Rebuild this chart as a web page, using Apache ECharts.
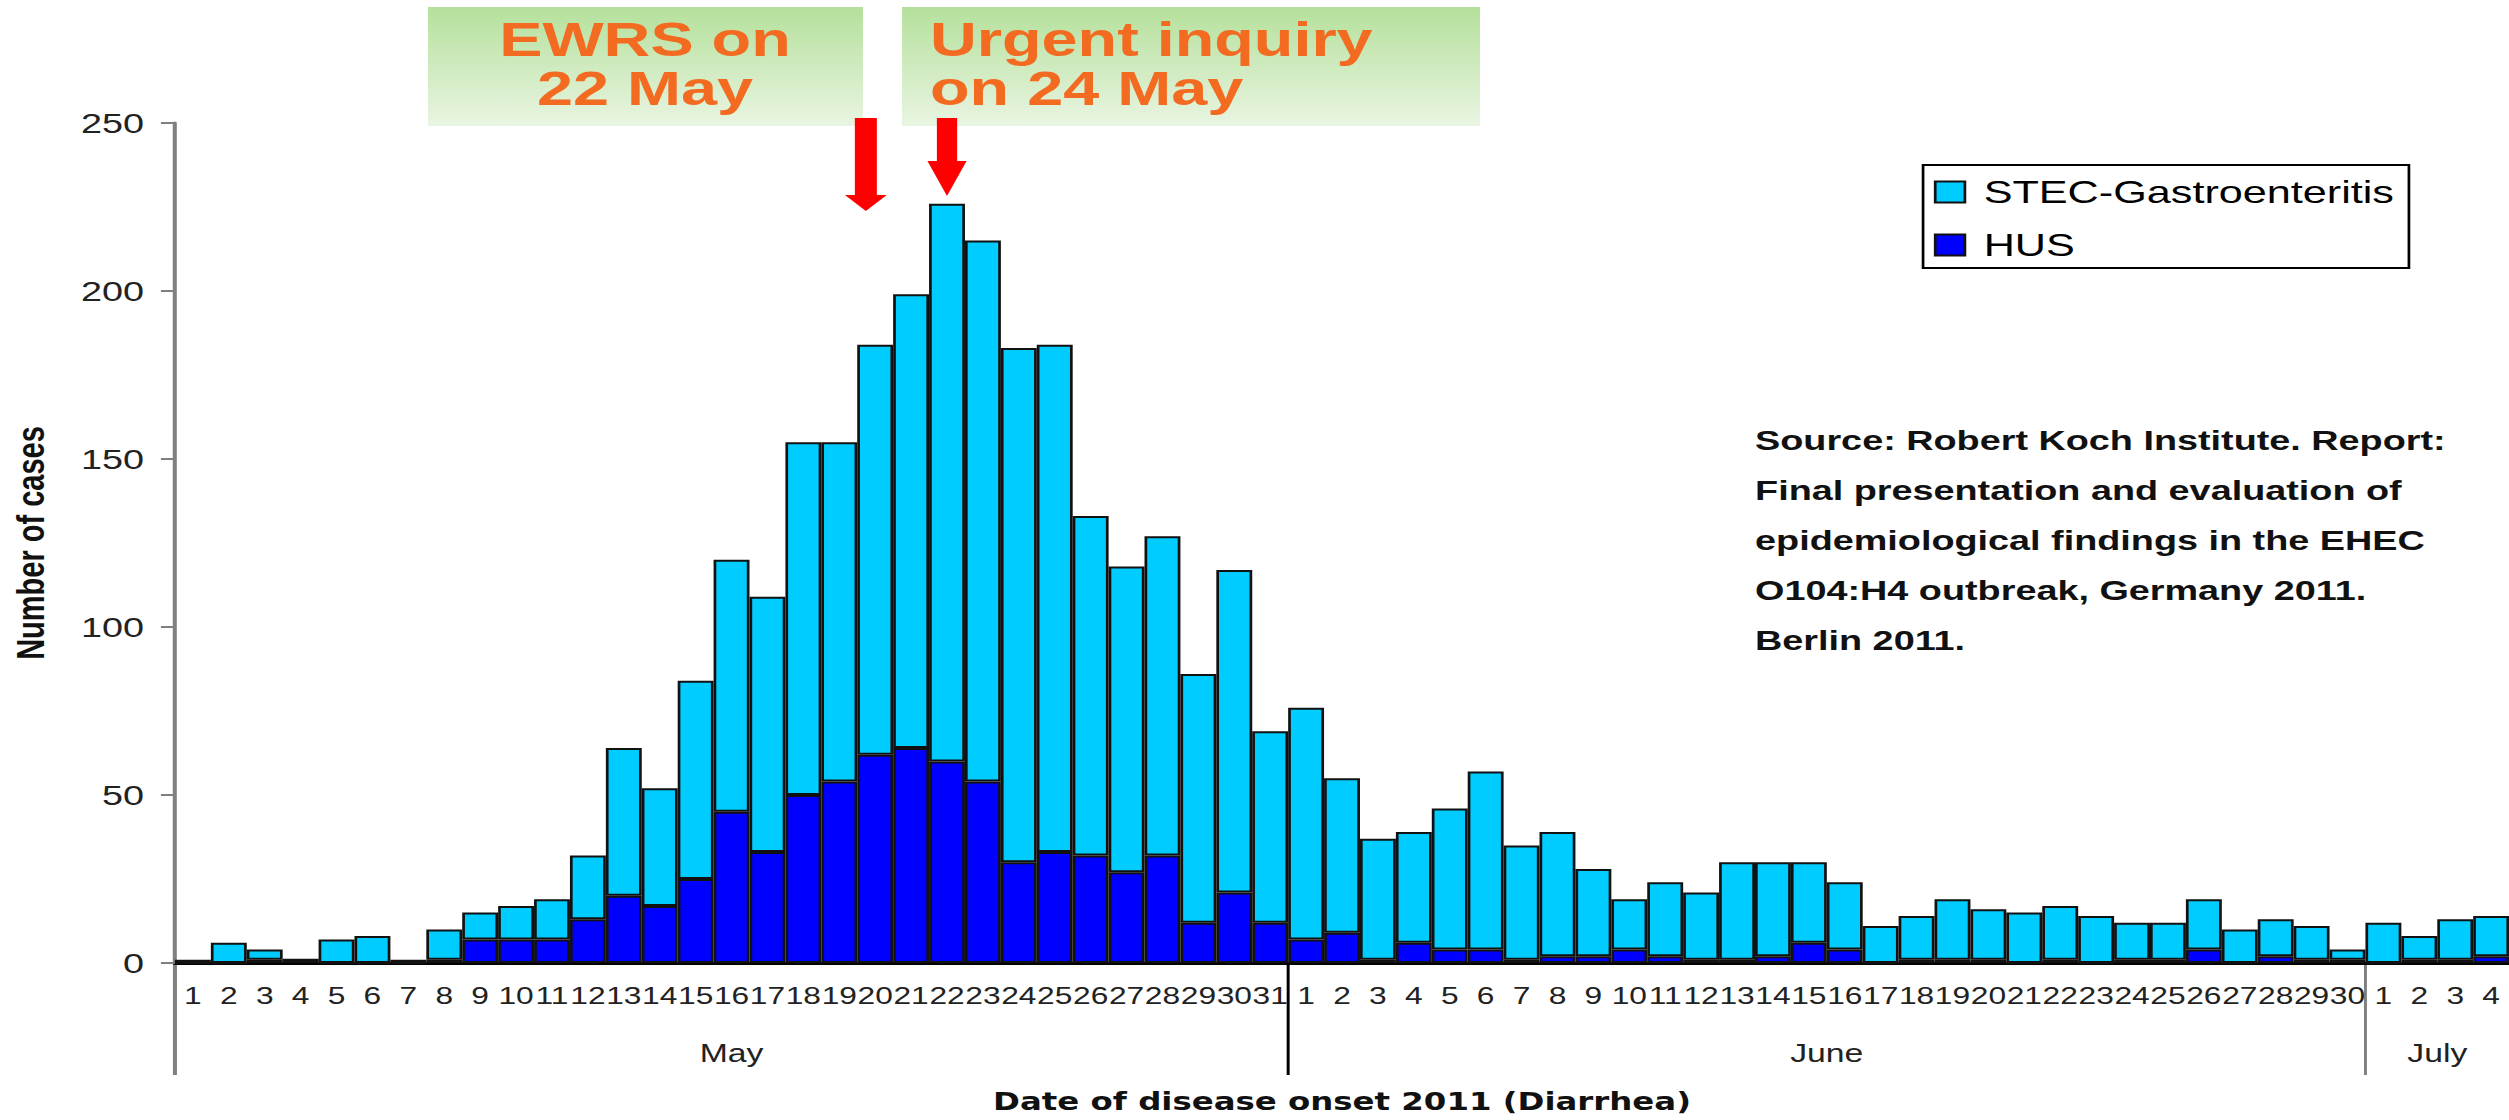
<!DOCTYPE html>
<html>
<head>
<meta charset="utf-8">
<title>EHEC O104:H4 outbreak, Germany 2011</title>
<script src="https://cdn.jsdelivr.net/npm/echarts@6/dist/echarts.min.js"></script>
<style>
  html, body { margin: 0; padding: 0; background: #fff; overflow: hidden; }
  /* the source picture is stretched sideways, so the chart is drawn narrow and stretched too */
  #chart { width: 1859px; height: 1120px; transform: scaleX(1.3497); transform-origin: 0 0; }
</style>
</head>
<body>
<div id="chart"></div>
<script>
const K = 2509 / 1859;
const sx = v => v / K; // picture x -> chart x

const months = ["May", "June", "July"];
const daysShown = [31, 30, 4];

// cases per day of onset, 1 May .. 4 July
const hus = [
  0, 0, 1, 1, 0, 0, 0, 1, 7, 7, 7, 13, 20, 17, 25, 45, 33, 50, 54, 62, 64, 60, 54, 30, 33, 32, 27, 32, 12, 21, 12,
  7, 9, 1, 6, 4, 4, 1, 2, 2, 4, 2, 1, 1, 2, 6, 4, 0, 1, 1, 1, 0, 1, 0, 1, 1, 4, 0, 2, 1, 1,
  0, 1, 1, 2
];
const stec = [
  1, 6, 3, 0, 7, 8, 1, 9, 8, 10, 12, 19, 44, 35, 59, 75, 76, 105, 101, 122, 135, 166, 161, 153, 151, 101, 91, 95, 74, 96, 57,
  69, 46, 36, 33, 42, 53, 34, 37, 26, 15, 22, 20, 29, 28, 24, 20, 11, 13, 18, 15, 15, 16, 14, 11, 11, 15, 10, 11, 10, 3,
  12, 7, 12, 12
];
const yMin = 0, yMax = 250, yStep = 50;

const sourceLines = [
  "Source: Robert Koch Institute. Report:",
  "Final presentation and evaluation of",
  "epidemiological findings in the EHEC",
  "O104:H4 outbreak, Germany 2011.",
  "Berlin 2011."
];

const categories = [];
months.forEach((m, i) => {
  for (let d = 1; d <= daysShown[i]; d++) categories.push(m + " " + d);
});

const font = "'Liberation Sans', Arial, sans-serif";

const option = {
  animation: false,
  textStyle: { fontFamily: font },
  grid: { left: sx(168), right: 0, top: 123, bottom: 157 },
  legend: {
    data: ["STEC-Gastroenteritis", "HUS"],
    orient: "vertical",
    left: sx(1923),
    top: 165,
    padding: [11, 11, 7, 8],
    itemWidth: 22,
    itemHeight: 21,
    itemGap: 21,
    borderColor: "#000",
    borderWidth: 2,
    backgroundColor: "#fff",
    icon: "rect",
    formatter: " {name}",
    textStyle: { fontSize: 32, color: "#000", lineHeight: 32 }
  },
  xAxis: {
    type: "category",
    data: categories,
    name: "Date of disease onset 2011 (Diarrhea)",
    nameLocation: "middle",
    nameGap: 127,
    nameTextStyle: { fontSize: 24, fontWeight: "bold", color: "#111", fontFamily: "'DejaVu Sans', Verdana, sans-serif" },
    axisLine: { lineStyle: { color: "#000", width: 3 } },
    axisTick: { interval: 0, length: 57, lineStyle: { color: "#444", width: 2.2 } },
    axisLabel: {
      interval: 0, fontSize: 23.5, margin: 21, color: "#222",
      formatter: v => v.split(" ")[1]
    },
    splitLine: { show: false }
  },
  yAxis: {
    type: "value",
    min: yMin,
    max: yMax,
    interval: yStep,
    name: "Number of cases",
    nameLocation: "middle",
    nameGap: sx(125),
    nameTextStyle: { fontSize: 29, fontWeight: "bold", color: "#111" },
    axisLine: { show: true, lineStyle: { color: "#808080", width: 3 } },
    axisTick: { show: true, length: sx(14), lineStyle: { color: "#808080", width: 2 } },
    axisLabel: { fontSize: 28, margin: sx(31), color: "#222" },
    splitLine: { show: false }
  },
  series: [
    {
      name: "HUS", type: "bar", stack: "cases", data: hus, barCategoryGap: 0,
      itemStyle: { color: "#0000ff", borderColor: "#111", borderWidth: 2 }
    },
    {
      name: "STEC-Gastroenteritis", type: "bar", stack: "cases", data: stec, barCategoryGap: 0,
      itemStyle: { color: "#00ccff", borderColor: "#111", borderWidth: 2 }
    }
  ]
};

const chart = echarts.init(document.getElementById("chart"), null, { renderer: "svg" });
chart.setOption(option);

// positions on the day axis, from the chart's own scale
const px = i => chart.convertToPixel({ xAxisIndex: 0 }, categories[i]);
const xAt = pos => {
  const i = Math.floor(pos);
  return px(i) + (pos - i) * (px(i + 1) - px(i));
};
const axisY = chart.convertToPixel({ yAxisIndex: 0 }, 0);
const half = (px(1) - px(0)) / 2;

const g = [];

// month names under the days, and the month dividers
let start = 0;
months.forEach((m, i) => {
  const end = start + daysShown[i] - 1;
  g.push({
    type: "text", silent: true,
    style: {
      text: m, x: (px(start) + px(end)) / 2, y: 1053,
      fill: "#222", font: "25px " + font,
      align: "center", verticalAlign: "middle", textAlign: "center", textVerticalAlign: "middle"
    }
  });
  if (i > 0) {
    g.push({
      type: "line", silent: true,
      shape: { x1: px(start) - half, y1: axisY, x2: px(start) - half, y2: 1075 },
      style: { stroke: i === 1 ? "#000" : "#808080", lineWidth: 2.2 }
    });
  }
  start = end + 1;
});
g.push({
  type: "line", silent: true,
  shape: { x1: px(0) - half, y1: axisY, x2: px(0) - half, y2: 1075 },
  style: { stroke: "#808080", lineWidth: 3 }
});

// green notes at the top
const notes = [
  { lines: ["EWRS on", "22 May"], x0: 428, x1: 863, textX: 645, align: "center" },
  { lines: ["Urgent inquiry", "on 24 May"], x0: 902, x1: 1480, textX: 930, align: "left" }
];
notes.forEach(n => {
  g.push({
    type: "rect", silent: true,
    shape: { x: sx(n.x0), y: 7, width: sx(n.x1 - n.x0), height: 119 },
    style: {
      fill: new echarts.graphic.LinearGradient(0, 0, 0, 1, [
        { offset: 0, color: "#b5e09b" },
        { offset: 1, color: "#e9f5e2" }
      ])
    }
  });
  n.lines.forEach((t, j) => {
    g.push({
      type: "text", silent: true,
      style: {
        text: t, x: sx(n.textX), y: 39 + j * 49,
        fill: "#f36a21", font: "bold 48px " + font,
        align: n.align, verticalAlign: "middle", textAlign: n.align, textVerticalAlign: "middle"
      }
    });
  });
});

// red arrows
const arrows = [
  { pos: 18.74, shaft: 16.3, head: 31, top: 118, headTop: 195, tip: 211 },
  { pos: 21, shaft: 15, head: 29, top: 118, headTop: 161, tip: 196 }
];
arrows.forEach(a => {
  const cx = xAt(a.pos), s = a.shaft / 2, h = a.head / 2;
  g.push({
    type: "polygon", silent: true,
    shape: {
      points: [
        [cx - s, a.top], [cx + s, a.top], [cx + s, a.headTop], [cx + h, a.headTop],
        [cx, a.tip], [cx - h, a.headTop], [cx - s, a.headTop]
      ]
    },
    style: { fill: "#ff0000" }
  });
});

// source note
sourceLines.forEach((t, j) => {
  g.push({
    type: "text", silent: true,
    style: {
      text: t, x: sx(1755), y: 440 + j * 50.2,
      fill: "#111", font: "bold 28px " + font,
      align: "left", verticalAlign: "middle", textAlign: "left", textVerticalAlign: "middle"
    }
  });
});

chart.setOption({ graphic: g });
</script>
</body>
</html>
